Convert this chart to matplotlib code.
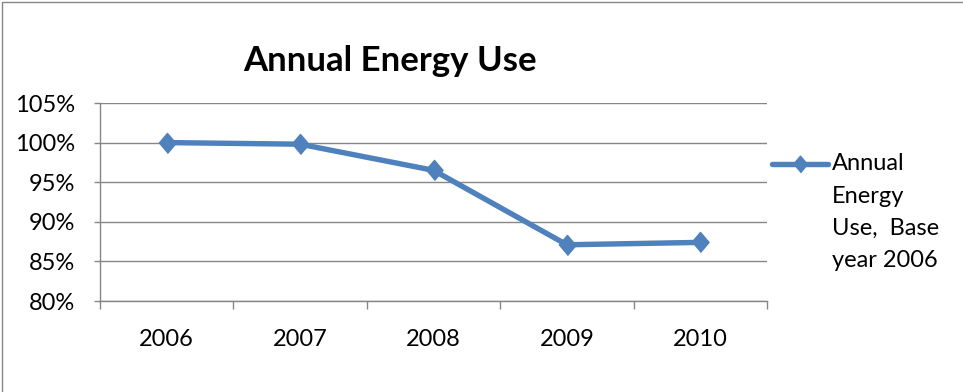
"""Annual energy use relative to base year 2006."""

import matplotlib

matplotlib.use("Agg")

import matplotlib.pyplot as plt
from matplotlib.lines import Line2D
from matplotlib.ticker import FixedLocator, FuncFormatter

years = ["2006", "2007", "2008", "2009", "2010"]
energy_pct = [100.0, 99.8, 96.5, 87.1, 87.4]
y_ticks = [80, 85, 90, 95, 100, 105]
title = "Annual Energy Use"
legend_lines = ["Annual", "Energy", "Use,  Base", "year 2006"]

BLUE = "#4F81BD"
GRID = "#868686"
# Excel-style diamond, a bit taller than wide
DIAMOND = [(-0.85, 0), (0, 1), (0.85, 0), (0, -1)]

plt.rcParams["font.family"] = ["Lato", "DejaVu Sans"]

fig = plt.figure(figsize=(9.63, 3.92), dpi=100)
ax = fig.add_axes([100 / 963, 1 - 301 / 392, 667 / 963, 198 / 392])

x = list(range(len(years)))
ax.plot(x, energy_pct, color=BLUE, lw=3.9, marker=DIAMOND, ms=14.5,
        solid_joinstyle="round", solid_capstyle="round", zorder=3)

ax.set_xlim(-0.5, len(years) - 0.5)
ax.set_ylim(y_ticks[0], y_ticks[-1])
ax.set_yticks(y_ticks)
ax.yaxis.set_major_formatter(FuncFormatter(lambda v, _: f"{v:.0f}%"))
ax.set_xticks(x)
ax.set_xticklabels(years)
ax.xaxis.set_minor_locator(FixedLocator([i - 0.5 for i in range(len(years) + 1)]))

ax.grid(axis="y", color=GRID, lw=1.0)
ax.set_axisbelow(True)
for side in ("top", "right"):
    ax.spines[side].set_visible(False)
for side in ("left", "bottom"):
    ax.spines[side].set_color(GRID)
    ax.spines[side].set_linewidth(1.0)

ax.tick_params(axis="y", length=4.5, width=1.0, color=GRID, pad=13.5,
               labelsize=17, labelcolor="black")
ax.tick_params(axis="x", which="major", length=0, pad=20, labelsize=17,
               labelcolor="black")
ax.tick_params(axis="x", which="minor", length=6, width=1.0, color=GRID)

fig.text(390 / 963, 1 - 61 / 392, title, ha="center", va="center",
         fontsize=25, fontweight="bold")

# legend drawn by hand so the key sits on the first text line
ly = 1 - 164 / 392
fig.add_artist(Line2D([772 / 963, 828 / 963], [ly, ly], color=BLUE, lw=3.9,
                      solid_capstyle="round", transform=fig.transFigure))
fig.add_artist(Line2D([800 / 963], [ly], color=BLUE, marker=DIAMOND, ms=12,
                      transform=fig.transFigure))
for i, line in enumerate(legend_lines):
    fig.text(832 / 963, ly - i * 32.3 / 392, line, ha="left", va="center",
             fontsize=17)

# chart border (only top and left edges fall inside the picture)
fig.add_artist(Line2D([2 / 963, 2 / 963, 1], [0, 1 - 2 / 392, 1 - 2 / 392],
                      color=GRID, lw=1.0, transform=fig.transFigure))

fig.savefig("out.png", dpi=100)
